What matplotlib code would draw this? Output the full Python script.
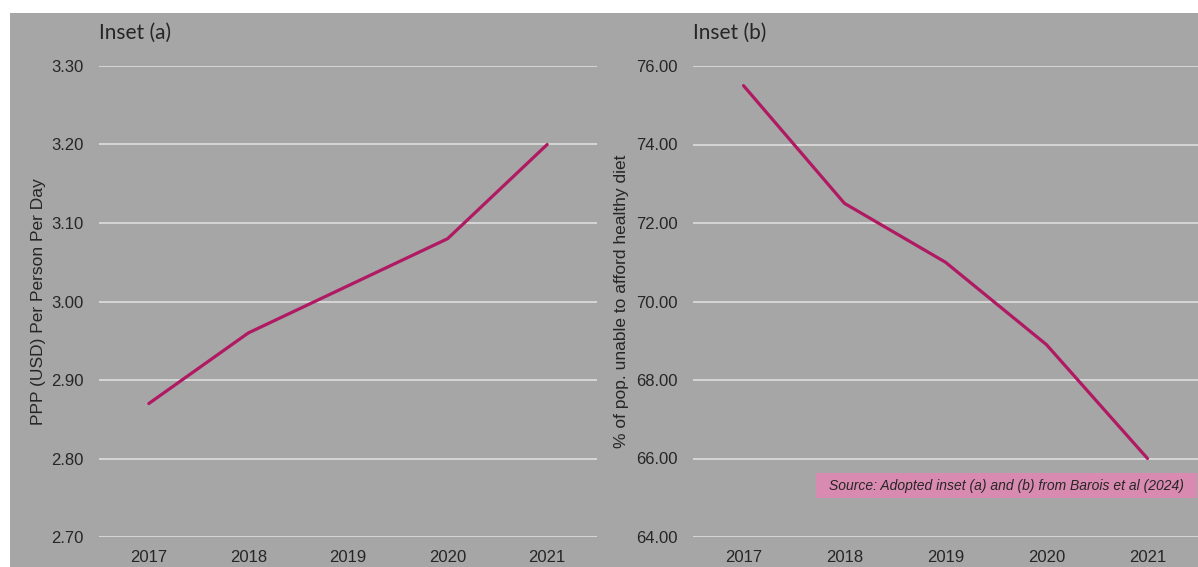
import matplotlib.pyplot as plt
from matplotlib.patches import Rectangle

# data
years = ['2017', '2018', '2019', '2020', '2021']
cost_ppp = [2.87, 2.96, 3.02, 3.08, 3.20]
pct_unable = [75.5, 72.5, 71.0, 68.9, 66.0]

ticks_a = [2.70, 2.80, 2.90, 3.00, 3.10, 3.20, 3.30]
ticks_b = [64, 66, 68, 70, 72, 74, 76]

W, H = 1198, 567
bg = '#a6a6a6'
line_col = '#b01a62'
txt_col = '#262626'

fig = plt.figure(figsize=(W / 100, H / 100), dpi=100)
fig.patch.set_facecolor('white')
# grey panel behind both charts
fig.patches.append(Rectangle((10 / W, 0), 1, (H - 13) / H, transform=fig.transFigure,
                             facecolor=bg, edgecolor='none', zorder=-5))


def px(x0, x1, ytop, ybot):
    return [x0 / W, (H - ybot) / H, (x1 - x0) / W, (ybot - ytop) / H]


def setup(ax, ticks, fmt, ylabel, label_x, title):
    ax.set_facecolor('none')
    for s in ax.spines.values():
        s.set_visible(False)
    ax.set_xlim(-0.5, 4.5)
    ax.set_ylim(ticks[0], ticks[-1])
    ax.set_yticks(ticks)
    ax.set_yticklabels([fmt.format(t) for t in ticks])
    ax.tick_params(axis='both', length=0, labelsize=12, labelcolor=txt_col,
                   labelfontfamily='Liberation Sans')
    ax.tick_params(axis='y', pad=11)
    ax.tick_params(axis='x', pad=9)
    ax.grid(axis='y', color='#d9d9d9', linewidth=1.3)
    ax.set_axisbelow(True)
    ax.set_ylabel(ylabel, fontsize=12.5, color=txt_col, family='Liberation Sans')
    ax.yaxis.set_label_coords(label_x, 0.5)
    ax.text(0.0, 1.07, title, transform=ax.transAxes, fontsize=15, color=txt_col,
            family='Lato', ha='left', va='center')


ax1 = fig.add_axes(px(99, 597, 66, 537))
ax1.plot(range(len(years)), cost_ppp, color=line_col, linewidth=2.3,
         solid_capstyle='round')
ax1.set_xticks(range(len(years)))
ax1.set_xticklabels(years)
setup(ax1, ticks_a, '{:.2f}', 'PPP (USD) Per Person Per Day', -0.107, 'Inset (a)')

ax2 = fig.add_axes(px(693, 1198, 66, 537))
ax2.plot(range(len(years)), pct_unable, color=line_col, linewidth=2.3,
         solid_capstyle='round')
ax2.set_xticks(range(len(years)))
ax2.set_xticklabels(years)
setup(ax2, ticks_b, '{:.2f}', '% of pop. unable to afford healthy diet', -0.127, 'Inset (b)')

# source note
fig.patches.append(Rectangle((816 / W, (H - 498) / H), (1197 - 816) / W, 25 / H,
                             transform=fig.transFigure, facecolor='#d98ab0',
                             edgecolor='none', zorder=3))
fig.text(1006 / W, (H - 486) / H, 'Source: Adopted inset (a) and (b) from Barois et al (2024)',
         ha='center', va='center', fontsize=10, style='italic', color=txt_col,
         family='Liberation Sans', zorder=4)

fig.savefig('out.png', dpi=100, facecolor=fig.get_facecolor())
